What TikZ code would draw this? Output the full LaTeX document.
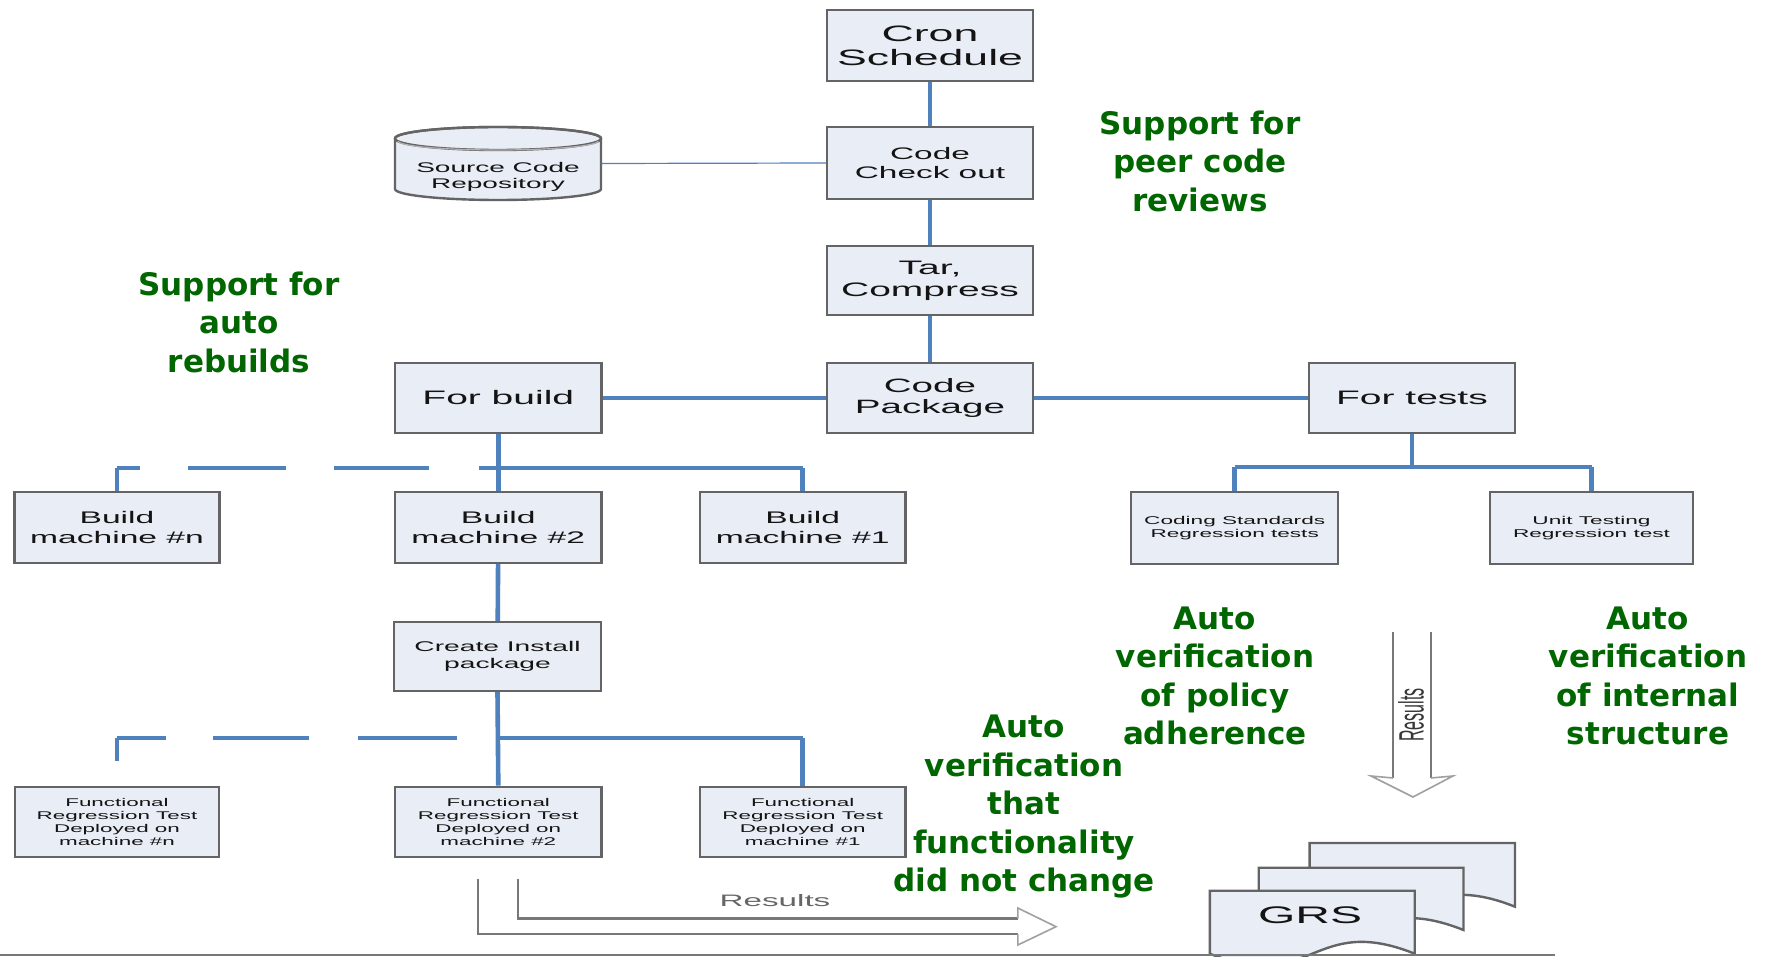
\documentclass[tikz,border=0pt]{standalone}
\usepackage{fontspec}
\usepackage{graphicx}
\setmainfont{Liberation Sans}
\newfontfamily\boxfont[FakeStretch=2]{Liberation Sans}
\newfontfamily\greenfont{DejaVu Sans}
\newcommand\fsz[2]{\fontsize{#1}{#2}\selectfont}
\definecolor{boxfill}{RGB}{233,237,246}
\definecolor{boxline}{RGB}{100,100,100}
\definecolor{conblue}{RGB}{79,129,189}
\definecolor{vgreen}{RGB}{0,102,0}
\definecolor{boxtext}{RGB}{20,20,20}
\definecolor{resgray}{RGB}{120,120,120}
\tikzset{
  box/.style={draw=boxline, fill=boxfill, line width=1.2pt, inner sep=0pt, align=center, text=boxtext},
  conn/.style={draw=conblue, line width=2.3pt},
  connh/.style={draw=conblue, line width=1.7pt},
  thinconn/.style={draw=conblue, line width=0.6pt},
  note/.style={text=vgreen, font=\greenfont\bfseries\fsz{15.5}{19.25}, align=center, inner sep=0pt},
  resline/.style={draw=resgray, line width=1.3pt},
  reshead/.style={draw=resgray!70, line width=0.8pt},
  doc/.style={draw=boxline, fill=boxfill, line width=1.2pt}
}
\newcommand\docshape[4]{%
  \filldraw[doc] (#1,#3) -- (#2,#3) -- (#2,#4) .. controls ({(#1+#2)/2},#4-41) and ({(#1+#2)/2},#4+41) .. (#1,#4) -- cycle;}
\begin{document}
\begin{tikzpicture}[x=0.5pt,y=-0.5pt]
\useasboundingbox (0,0) rectangle (1769,957);
\fill[white] (0,0) rectangle (1769,957);

% central column
\node[box, minimum width=102.75pt, minimum height=35.5pt, font=\boxfont\fsz{11.15}{12}] (cron) at (930,45.5) {Cron\\Schedule};
\node[box, minimum width=102.75pt, minimum height=36pt, font=\boxfont\fsz{8.35}{9.5}] (check) at (930,163) {Code\\Check out};
\node[box, minimum width=102.75pt, minimum height=34.5pt, font=\boxfont\fsz{9.75}{11}] (tar) at (930,280.5) {Tar,\\Compress};
\node[box, minimum width=102.75pt, minimum height=35pt, font=\boxfont\fsz{9.65}{10.5}] (pkg) at (930,398) {Code\\Package};

% repository cylinder
\node[inner sep=0pt, minimum width=103pt, minimum height=36.5pt] (repo) at (498,163.5) {};
\filldraw[doc] (395,138.5) -- (395,189) arc[start angle=180, end angle=360, x radius=51.5pt, y radius=5.5pt] -- (601,138.5) arc[start angle=0, end angle=180, x radius=51.5pt, y radius=5.75pt] -- cycle;
\draw[boxline, line width=1.2pt] (498,138.5) ellipse [x radius=51.5pt, y radius=5.75pt];
\draw[boxline!50, line width=0.6pt] (398,141) arc[start angle=180, end angle=360, x radius=50pt, y radius=4.5pt];
\node[inner sep=0pt, align=center, text=boxtext, font=\boxfont\fsz{7}{8}] (repotext) at (498,177) {Source Code\\Repository};

% second row
\node[box, minimum width=103.3pt, minimum height=35pt, font=\boxfont\fsz{9.75}{11}] (forbuild) at (498.3,398) {For build};
\node[box, minimum width=103pt, minimum height=35pt, font=\boxfont\fsz{9.75}{11}] (fortests) at (1412,398) {For tests};

% build machines
\node[box, minimum width=102.5pt, minimum height=35.5pt, font=\boxfont\fsz{8.4}{9.65}] (bmn) at (117,527.5) {Build\\machine \#n};
\node[box, minimum width=103.3pt, minimum height=35.5pt, font=\boxfont\fsz{8.4}{9.65}] (bm2) at (498.3,527.5) {Build\\machine \#2};
\node[box, minimum width=102.75pt, minimum height=35.5pt, font=\boxfont\fsz{8.4}{9.65}] (bm1) at (802.7,527.5) {Build\\machine \#1};

% tests
\node[box, minimum width=103.5pt, minimum height=36pt, font=\boxfont\fsz{5.65}{6.65}] (coding) at (1234.7,528) {Coding Standards\\Regression tests};
\node[box, minimum width=101.5pt, minimum height=36pt, font=\boxfont\fsz{5.65}{6.65}] (unit) at (1591.5,528) {Unit Testing\\Regression test};

% install package
\node[box, minimum width=103.5pt, minimum height=34.5pt, font=\boxfont\fsz{7.05}{8.35}] (create) at (497.5,656.5) {Create Install\\package};

% functional tests
\node[box, minimum width=102.25pt, minimum height=35pt, font=\boxfont\fsz{5.6}{6.4}] (frtn) at (117,821.8) {Functional\\Regression Test\\Deployed on\\machine \#n};
\node[box, minimum width=103.25pt, minimum height=35pt, font=\boxfont\fsz{5.6}{6.4}] (frt2) at (498.3,821.8) {Functional\\Regression Test\\Deployed on\\machine \#2};
\node[box, minimum width=102.75pt, minimum height=35pt, font=\boxfont\fsz{5.6}{6.4}] (frt1) at (802.7,821.8) {Functional\\Regression Test\\Deployed on\\machine \#1};

% connectors: central
\draw[conn] (cron) -- (check);
\draw[conn] (check) -- (tar);
\draw[conn] (tar) -- (pkg);
\draw[thinconn] (repo.east) -- (check.west);
\draw[connh] (pkg.west) -- (forbuild.east);
\draw[connh] (pkg.east) -- (fortests.west);

% build tree
\coordinate (bj) at (498.3,468);
\draw[conn] (forbuild) -- (bm2);
\draw[connh] (479,468) -- (bm1.north |- bj);
\draw[conn] (bm1.north |- bj) -- (bm1.north);
\draw[conn] (bmn.north) -- (bmn.north |- bj);
\draw[connh] (bmn.north |- bj) -- ++(23,0);
\draw[connh] (188,468) -- (285.5,468);
\draw[connh] (334,468) -- (429,468);

% tests tree
\coordinate (tj) at (1412,467);
\draw[conn] (fortests) -- (tj);
\draw[connh] (coding.north |- tj) -- (unit.north |- tj);
\draw[conn] (coding.north |- tj) -- (coding.north);
\draw[conn] (unit.north |- tj) -- (unit.north);

% functional tree
\coordinate (fj) at (497.5,738);
\draw[conn] (bm2) -- (create);
\draw[conn] (create.south) -- (frt2.north);
\draw[connh] (fj) -- (frt1.north |- fj);
\draw[conn] (frt1.north |- fj) -- (frt1.north);
\draw[conn] ([yshift=12.5pt]frtn.north) -- (frtn.north |- fj);
\draw[connh] (frtn.north |- fj) -- ++(48.6,0);
\draw[connh] (213,738) -- (309,738);
\draw[connh] (358,738) -- (456.5,738);

% results arrow (horizontal)
\draw[resline] (517.8,879) -- (517.8,918.7) -- (1017.8,918.7);
\draw[resline] (478,879) -- (478,934) -- (1017.8,934);
\draw[reshead] (1017.8,918.7) -- (1017.8,908) -- (1056,926.7) -- (1017.8,945) -- (1017.8,934);
\node[inner sep=0pt, text=resgray!85!black, font=\boxfont\fsz{8.3}{10}] (res1) at (775,901) {Results};

% results arrow (vertical)
\draw[resline] (1393,632) -- (1393,778);
\draw[resline] (1431,632) -- (1431,778);
\draw[reshead] (1393,778) -- (1371,776) -- (1413,797) -- (1453,776) -- (1431,778);
\node[inner sep=0pt, text=boxtext!85, font=\fsz{8}{9}] (res2) at (1411,715) {\rotatebox{90}{\scalebox{1}[2.2]{Results}}};

% GRS documents
\docshape{1309.6}{1515}{843}{906.7}
\docshape{1258.7}{1463.5}{867.7}{930}
\docshape{1209.8}{1414.7}{890.7}{953.7}
\node[inner sep=0pt, text=boxtext, font=\boxfont\fsz{12}{14}] (grs) at (1310,915) {GRS};

% bottom rule
\draw[resgray, line width=1pt] (0,955) -- (1555,955);

% green notes
\node[note] (peer) at (1200,161) {Support for\\peer code\\reviews};
\node[note] (rebuild) at (239,322) {Support for\\auto\\rebuilds};
\node[note] (policy) at (1215,676) {Auto\\verification\\of policy\\adherence};
\node[note] (internal) at (1648,676) {Auto\\verification\\of internal\\structure};
\node[note] (func) at (1024,807) {Auto\\verification\\that\\functionality\\did not change};
\end{tikzpicture}
\end{document}
